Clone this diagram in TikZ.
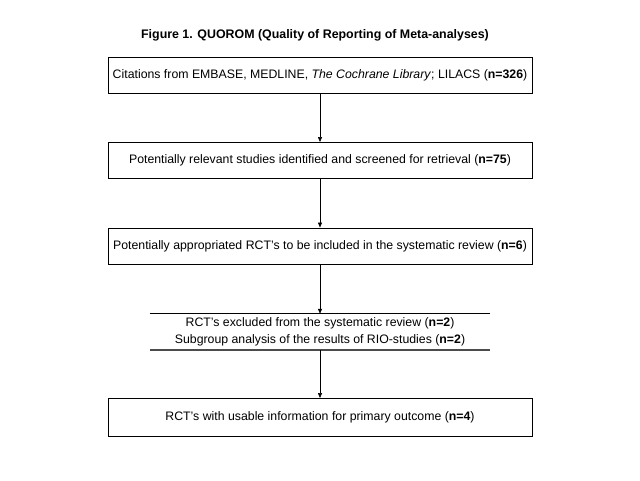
\documentclass[tikz,border=0pt]{standalone}
\usepackage{fontspec}
\setmainfont{Liberation Sans}
\usetikzlibrary{arrows.meta}
\begin{document}
\begin{tikzpicture}[x=1pt,y=-1pt,
  box/.style={draw,line width=0.9pt,minimum height=36pt,minimum width=424pt,inner sep=0pt,font=\fontsize{12.3}{17}\selectfont,align=center},
  openbox/.style={minimum height=36pt,minimum width=340pt,inner sep=0pt,font=\fontsize{12.3}{17}\selectfont,align=center},
  arr/.style={line width=0.6pt,-{Triangle[length=5pt,width=4pt]}}]
\useasboundingbox (0,0) rectangle (640,480);
\node[font=\bfseries\fontsize{12.4}{14}\selectfont] (title) at (315,35) {Figure 1. QUOROM (Quality of Reporting of Meta-analyses)};
\node[box] (b1) at (320,75) {Citations from EMBASE, MEDLINE, \textit{The Cochrane Library}; LILACS (\textbf{n=326})};
\node[box] (b2) at (320,160.5) {Potentially relevant studies identified and screened for retrieval (\textbf{n=75})};
\node[box] (b3) at (320,246) {Potentially appropriated RCT's to be included in the systematic review (\textbf{n=6})};
\node[openbox] (b4) at (320,332) {RCT's excluded from the systematic review (\textbf{n=2})\\Subgroup analysis of the results of RIO-studies (\textbf{n=2})};
\draw[line width=0.9pt] (b4.north west) -- (b4.north east);
\draw[line width=1.8pt,black!70] (b4.south west) -- (b4.south east);
\node[box,minimum height=38pt] (b5) at (320,417.5) {RCT's with usable information for primary outcome (\textbf{n=4})};
\draw[arr] (b1) -- (b2);
\draw[arr] (b2) -- (b3);
\draw[arr] (b3) -- (b4);
\draw[arr] (b4) -- (b5);
\end{tikzpicture}
\end{document}
